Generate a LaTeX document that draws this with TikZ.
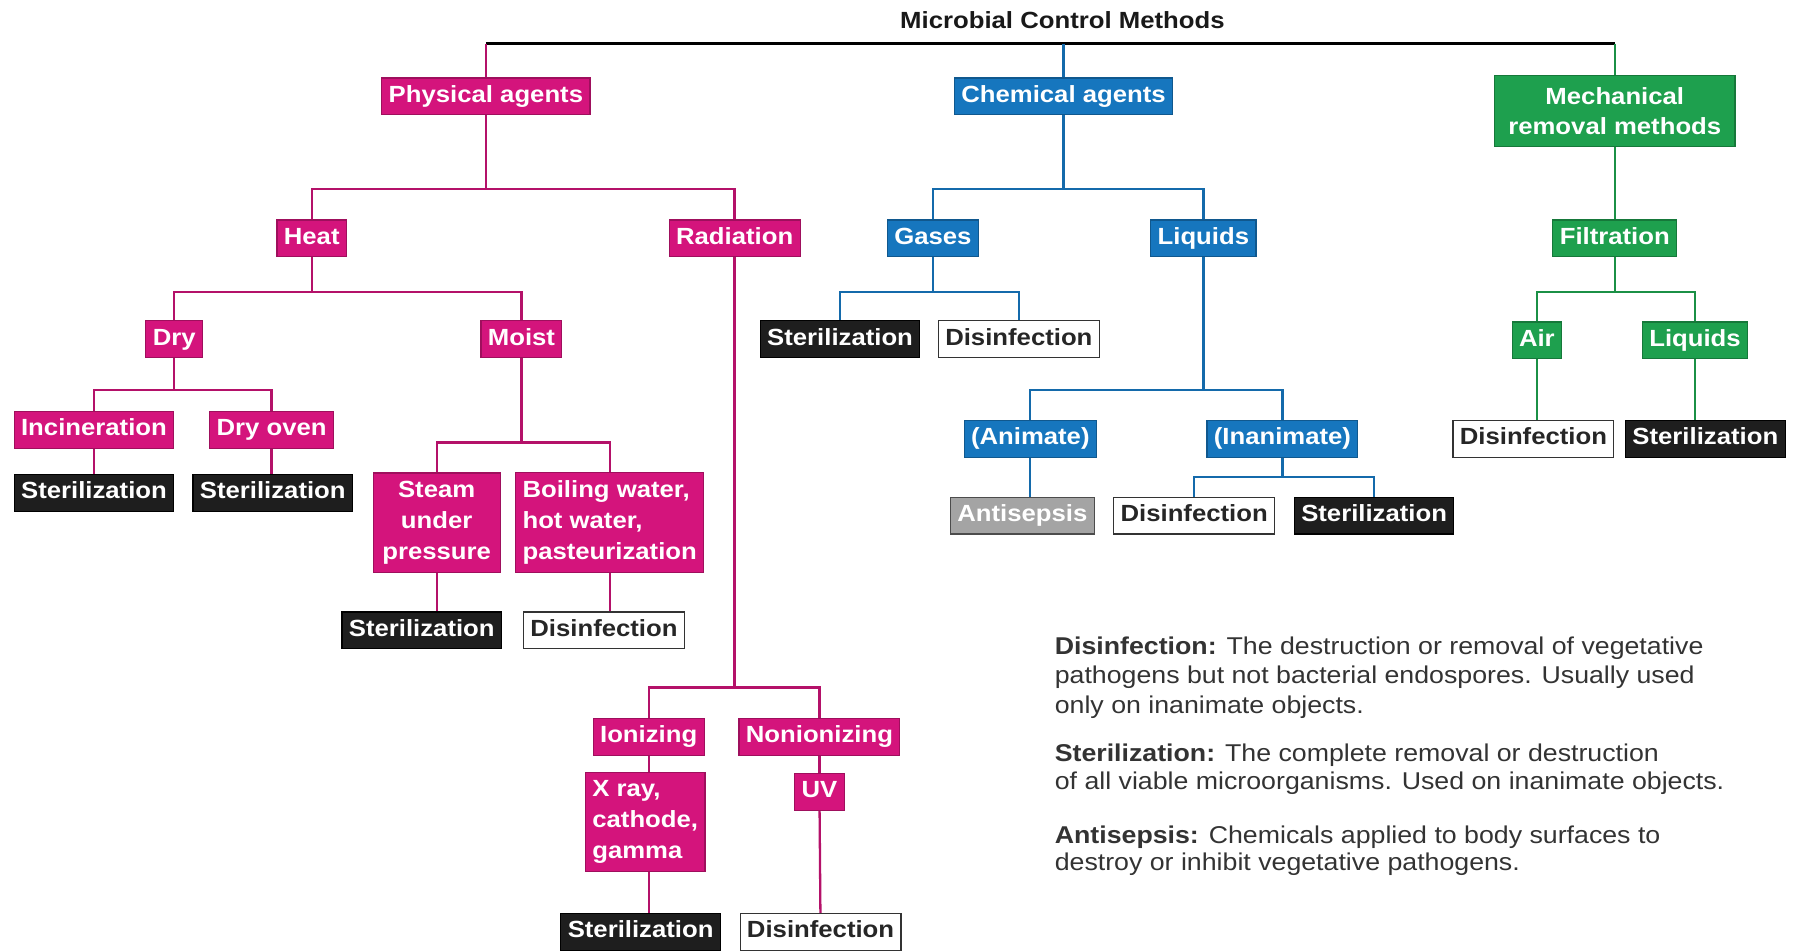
\documentclass[tikz,border=0pt]{standalone}
\usepackage{fontspec}
\setmainfont{Liberation Sans}[FakeStretch=1.1]
\usepackage{tikz}

\definecolor{physmag}{HTML}{D4147C}
\definecolor{chemblue}{HTML}{1676BE}
\definecolor{mechgreen}{HTML}{1EA04E}
\definecolor{sterblack}{HTML}{1E1E1E}
\definecolor{antigrey}{HTML}{A4A4A4}

\newcommand\boxfont{\fontsize{10.2}{13.5}\selectfont\bfseries}
\newcommand\legendfont{\fontsize{10.6}{13}\selectfont}

\begin{document}
\begin{tikzpicture}[x=0.5pt,y=-0.5pt,
  box/.style={inner xsep=3pt,inner ysep=3pt,text height=7.6pt,text depth=2.4pt,
    font=\boxfont,text=white,align=center,line width=0.5pt},
  multi/.style={text height=,text depth=,inner ysep=3.5pt},
  physbox/.style={box,fill=physmag,draw=physmag!75!black},
  chembox/.style={box,fill=chemblue,draw=chemblue!75!black},
  mechbox/.style={box,fill=mechgreen,draw=mechgreen!75!black},
  sterbox/.style={box,fill=sterblack,draw=black},
  disbox/.style={box,fill=white,draw=black!80,text=black!85},
  antibox/.style={box,fill=antigrey,draw=black!70},
  physline/.style={draw=physmag!85!black,line width=1pt},
  chemline/.style={draw=chemblue!90!black,line width=1pt},
  mechline/.style={draw=mechgreen!90!black,line width=1pt},
  topbar/.style={draw=black,line width=1.6pt},
  legend/.style={anchor=north west,inner sep=0pt,align=left,font=\legendfont,text=black!80}]
\useasboundingbox (0,0) rectangle (1568,829);

\node[font=\boxfont,text=black!90] (title) at (927,18) {Microbial Control Methods};

% first level
\node[physbox] (phys) at (424,84) {Physical agents};
\node[chembox] (chem) at (928,84) {Chemical agents};
\node[mechbox,multi,inner xsep=6pt,inner ysep=5pt] (mech) at (1409,97) {Mechanical\\removal methods};

% second level
\node[physbox] (heat) at (272,208) {Heat};
\node[physbox] (rad) at (641,208) {Radiation};
\node[chembox] (gases) at (814,208) {Gases};
\node[chembox] (liq) at (1050,208) {Liquids};
\node[mechbox] (filt) at (1409,208) {Filtration};

% heat branch
\node[physbox] (dry) at (152,296) {Dry};
\node[physbox] (moist) at (455,296) {Moist};
\node[physbox] (incin) at (82,375) {Incineration};
\node[physbox] (oven) at (237,375) {Dry oven};
\node[sterbox] (incster) at (82,430) {Sterilization};
\node[sterbox] (ovenster) at (238,430) {Sterilization};
\node[physbox,multi,inner xsep=4pt] (steam) at (381,456) {Steam\\under\\pressure};
\node[physbox,multi,align=left] (boil) at (532,456) {Boiling water,\\hot water,\\pasteurization};
\node[sterbox] (steamster) at (368,550) {Sterilization};
\node[disbox] (boildis) at (527,550) {Disinfection};

% radiation branch
\node[physbox] (ion) at (566,643) {Ionizing};
\node[physbox] (nonion) at (715,643) {Nonionizing};
\node[physbox,multi,align=left] (xray) at (563,717) {X ray,\\cathode,\\gamma};
\node[physbox] (uv) at (715,691) {UV};
\node[sterbox] (xrayster) at (559,813) {Sterilization};
\node[disbox] (uvdis) at (716,813) {Disinfection};

% chemical branch
\node[sterbox] (gasster) at (733,296) {Sterilization};
\node[disbox] (gasdis) at (889,296) {Disinfection};
\node[chembox] (anim) at (899,383) {(Animate)};
\node[chembox] (inanim) at (1119,383) {(Inanimate)};
\node[antibox] (antis) at (892,450) {Antisepsis};
\node[disbox] (inandis) at (1042,450) {Disinfection};
\node[sterbox] (inanster) at (1199,450) {Sterilization};

% mechanical branch
\node[mechbox] (air) at (1341,297) {Air};
\node[mechbox] (fliq) at (1479,297) {Liquids};
\node[disbox] (airdis) at (1338,383) {Disinfection};
\node[sterbox] (fliqster) at (1488,383) {Sterilization};

% legend
\node[legend] (ldis) at (920,555) {\textbf{Disinfection:} The destruction or removal of vegetative\\
  pathogens but not bacterial endospores. Usually used\\only on inanimate objects.};
\node[legend,font=\fontsize{10.6}{12}\selectfont] (lster) at (920,649) {\textbf{Sterilization:} The complete removal or destruction\\
  of all viable microorganisms. Used on inanimate objects.};
\node[legend,font=\fontsize{10.6}{12}\selectfont] (lanti) at (920,720) {\textbf{Antisepsis:} Chemicals applied to body surfaces to\\
  destroy or inhibit vegetative pathogens.};

% connectors
\coordinate (jtop) at (928,38);
\draw[topbar] (phys.north |- jtop) -- (mech.north |- jtop);
\draw[physline] (phys.north |- jtop) -- (phys);
\draw[chemline] (jtop) -- (chem);
\draw[mechline] (mech.north |- jtop) -- (mech);

\coordinate (jphys) at (424,165);
\draw[physline] (phys) -- (jphys) -| (heat);
\draw[physline] (jphys) -| (rad);
\coordinate (jheat) at (272,255);
\draw[physline] (heat) -- (jheat) -| (dry);
\draw[physline] (jheat) -| (moist);
\coordinate (jdry) at (152,340);
\draw[physline] (dry) -- (jdry) -| (incin);
\draw[physline] (jdry) -| (oven);
\draw[physline] (incin) -- (incster);
\draw[physline] (oven.south) -- (oven.south |- ovenster.north);
\coordinate (jmoist) at (455,386);
\draw[physline] (moist) -- (jmoist) -| (steam);
\draw[physline] (jmoist) -| (boil);
\draw[physline] (steam.south) -- (steam.south |- steamster.north);
\draw[physline] (boil.south) -- (boil.south |- boildis.north);
\coordinate (jrad) at (641,600);
\draw[physline] (rad) -- (jrad) -| (ion);
\draw[physline] (jrad) -| (nonion);
\draw[physline] (ion.south) -- (ion.south |- xray.north);
\draw[physline] (ion.south |- xray.south) -- (ion.south |- xrayster.north);
\draw[physline] (nonion) -- (uv);
\draw[physline] (uv) -- (uvdis);

\coordinate (jchem) at (928,165);
\draw[chemline] (chem) -- (jchem) -| (gases);
\draw[chemline] (jchem) -| (liq);
\coordinate (jgas) at (814,255);
\draw[chemline] (gases) -- (jgas) -| (gasster);
\draw[chemline] (jgas) -| (gasdis);
\coordinate (jliq) at (1050,340);
\draw[chemline] (liq) -- (jliq) -| (anim);
\draw[chemline] (jliq) -| (inanim);
\draw[chemline] (anim.south) -- (anim.south |- antis.north);
\coordinate (jinan) at (1119,416);
\draw[chemline] (inanim) -- (jinan) -| (inandis);
\draw[chemline] (jinan) -| (inanster);

\draw[mechline] (mech) -- (filt);
\coordinate (jfilt) at (1409,255);
\draw[mechline] (filt) -- (jfilt) -| (air);
\draw[mechline] (jfilt) -| (fliq);
\draw[mechline] (air.south) -- (air.south |- airdis.north);
\draw[mechline] (fliq.south) -- (fliq.south |- fliqster.north);
\end{tikzpicture}
\end{document}
